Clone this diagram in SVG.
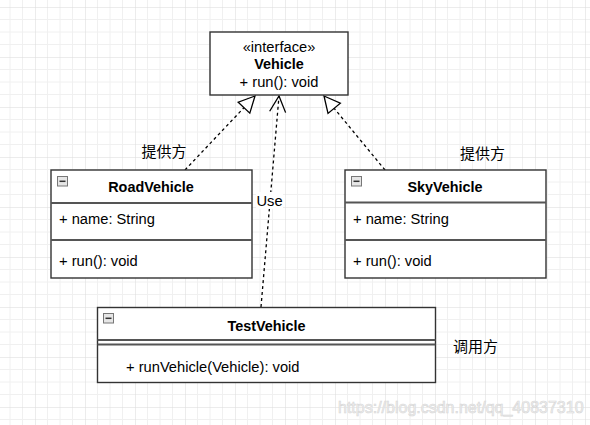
<svg xmlns="http://www.w3.org/2000/svg" width="590" height="425" viewBox="0 0 590 425">
<style>
.box{fill:#fff;stroke:#333;stroke-width:1.4}
.div{stroke:#555;stroke-width:2}
.t{font-family:"Liberation Sans",Arial,sans-serif;font-size:14.7px;fill:#000}
.b{font-family:"Liberation Sans",Arial,sans-serif;font-size:14.4px;font-weight:bold;fill:#000}
.cjk{font-family:"Liberation Sans","Noto Sans CJK SC",sans-serif;font-size:15px;fill:#000}
.edge{fill:none;stroke:#000;stroke-width:1.3;stroke-dasharray:3 3}
</style>
<defs>
<pattern id="grid" patternUnits="userSpaceOnUse" x="35" y="7" width="50" height="50">
<path d="M12.5,0V50M25,0V50M37.5,0V50M0,12.5H50M0,25H50M0,37.5H50" stroke="#f0f0f0" stroke-width="1"/>
<path d="M0,0V50M0,0H50" stroke="#dadada" stroke-width="1"/>
</pattern>
<marker id="tri" markerUnits="userSpaceOnUse" markerWidth="20" markerHeight="20" refX="17" refY="9" orient="auto" viewBox="0 0 20 18" overflow="visible">
<path d="M17,9 L1,1 L1,17 Z" fill="#fff" stroke="#000" stroke-width="1.3" stroke-dasharray="none"/>
</marker>
<marker id="open" markerUnits="userSpaceOnUse" markerWidth="20" markerHeight="20" refX="17" refY="9" orient="auto" viewBox="0 0 20 18" overflow="visible">
<path d="M1,1 L17,9 L1,17" fill="none" stroke="#000" stroke-width="1.3" stroke-dasharray="none"/>
</marker>
<g id="minus">
<rect x="0.5" y="0.5" width="10" height="9.5" fill="#e6e6e6" stroke="#777" stroke-width="1"/>
<path d="M2.5,5.3H8.5" stroke="#333" stroke-width="1.5"/>
</g>
</defs>
<rect width="590" height="425" fill="#fff"/>
<rect width="590" height="425" fill="url(#grid)"/>

<g id="connectors">
<path class="edge" d="M185,170 L255,96" marker-end="url(#tri)"/>
<path class="edge" d="M385,170 L324,96" marker-end="url(#tri)"/>
<path class="edge" d="M261,307 L279,96" marker-end="url(#open)"/>
<rect x="256" y="192" width="27" height="17" fill="#fff"/>
<text class="t" x="256.5" y="206">Use</text>
</g>

<g id="Vehicle">
<rect class="box" x="210" y="32" width="138" height="63"/>
<text class="t" x="279" y="51.5" text-anchor="middle">«interface»</text>
<text class="b" x="279" y="68.5" text-anchor="middle">Vehicle</text>
<text class="t" x="279" y="86.5" text-anchor="middle">+ run(): void</text>
</g>

<g id="RoadVehicle">
<rect class="box" x="51" y="170" width="201" height="108"/>
<line class="div" x1="51" y1="203" x2="252" y2="203"/>
<line class="div" x1="51" y1="240" x2="252" y2="240"/>
<use href="#minus" x="57" y="176"/>
<text class="b" x="151" y="192" text-anchor="middle">RoadVehicle</text>
<text class="t" x="59" y="224">+ name: String</text>
<text class="t" x="59" y="266">+ run(): void</text>
<text class="cjk" x="141.5" y="157">提供方</text>
</g>

<g id="SkyVehicle">
<rect class="box" x="345" y="170" width="201" height="108"/>
<line class="div" x1="345" y1="202.5" x2="546" y2="202.5"/>
<line class="div" x1="345" y1="240" x2="546" y2="240"/>
<use href="#minus" x="351" y="176"/>
<text class="b" x="445" y="192" text-anchor="middle">SkyVehicle</text>
<text class="t" x="353" y="224">+ name: String</text>
<text class="t" x="353" y="266">+ run(): void</text>
<text class="cjk" x="460" y="159">提供方</text>
</g>

<g id="TestVehicle">
<rect class="box" x="97.5" y="307.5" width="338" height="75"/>
<line class="div" x1="97.5" y1="340" x2="435.5" y2="340"/>
<line class="div" x1="97.5" y1="344.5" x2="435.5" y2="344.5"/>
<use href="#minus" x="103" y="313"/>
<text class="b" x="266.5" y="330.5" text-anchor="middle">TestVehicle</text>
<text class="t" x="126" y="372">+ runVehicle(Vehicle): void</text>
<text class="cjk" x="453" y="352">调用方</text>
</g>

<text x="338" y="413" font-family="Liberation Sans, Arial, sans-serif" font-size="16" fill="#f2f2f2" stroke="#d6d6d6" stroke-width="0.6">https://blog.csdn.net/qq_40837310</text>
</svg>
